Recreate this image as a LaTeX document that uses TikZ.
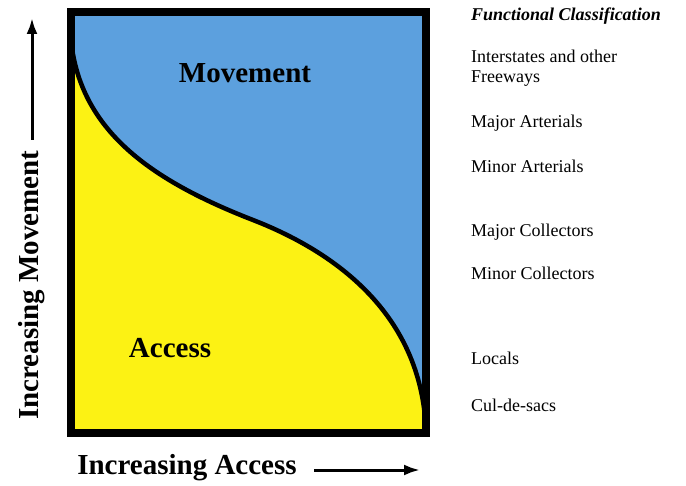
\documentclass[tikz,border=0pt]{standalone}
\usepackage{fontspec}
\setmainfont{Liberation Serif}
\usetikzlibrary{arrows.meta}
\definecolor{movblue}{RGB}{92,160,222}
\definecolor{accyellow}{RGB}{252,242,20}

\begin{document}
\begin{tikzpicture}[x=1pt,y=-1pt,
  biglabel/.style={font=\fontsize{29}{34}\selectfont\bfseries,inner sep=0pt},
  classlabel/.style={font=\fontsize{18}{20}\selectfont,anchor=west,align=left,inner sep=0pt},
  axisarrow/.style={line width=3pt,-{Latex[length=16pt,width=11pt]}}]
\useasboundingbox (0,0) rectangle (686,486);
% regions
\coordinate (tl) at (71,12);
\coordinate (br) at (426,433);
\fill[movblue] (tl) rectangle (br);
\fill[accyellow] (71,40) .. controls (80,130) and (150,180) .. (253,220)
  .. controls (343,255) and (423,320) .. (426,433) -- (71,433) -- cycle;
\draw[line width=4.5pt] (71,40) .. controls (80,130) and (150,180) .. (253,220)
  .. controls (343,255) and (423,320) .. (426,433);
\draw[line width=8pt] (tl) rectangle (br);
\node[biglabel] (mov) at (245,73) {Movement};
\node[biglabel] (acc) at (170,348) {Access};
% axes
\node[biglabel] (xlab) at (187,468) {Increasing Access};
\node[biglabel,rotate=90] (ylab) at (32,285) {Increasing Movement};
\coordinate (xtail) at (314,470);
\coordinate (xtip) at (420,470);
\coordinate (ytail) at (32,140);
\coordinate (ytip) at (32,18);
\draw[axisarrow] (xtail) -- (xtip);
\draw[axisarrow] (ytail) -- (ytip);
% classification list
\node[classlabel,font=\fontsize{18}{20}\selectfont\bfseries\itshape] (fc) at (471,16) {Functional Classification};
\node[classlabel] (ifw) at (471,68) {Interstates and other\\Freeways};
\node[classlabel] (maja) at (471,123) {Major Arterials};
\node[classlabel] (mina) at (471,166) {Minor Arterials};
\node[classlabel] (majc) at (471,232) {Major Collectors};
\node[classlabel] (minc) at (471,273) {Minor Collectors};
\node[classlabel] (loc) at (471,358) {Locals};
\node[classlabel] (cds) at (471,405) {Cul-de-sacs};
\end{tikzpicture}
\end{document}
